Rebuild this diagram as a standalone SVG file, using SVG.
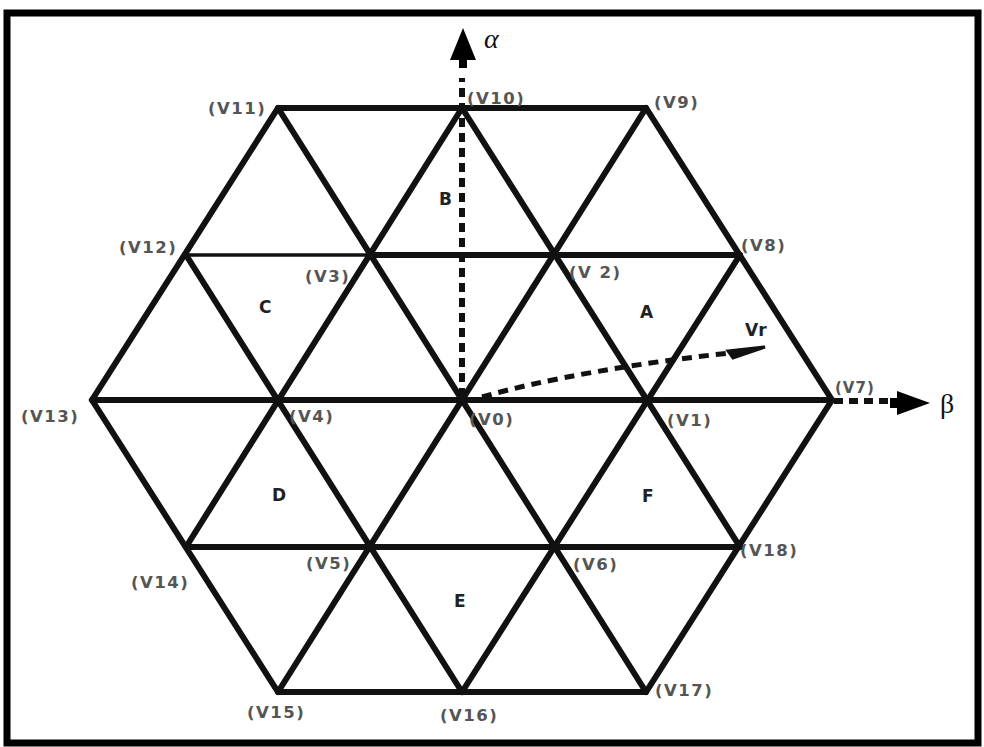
<svg xmlns="http://www.w3.org/2000/svg" width="984" height="747" viewBox="0 0 984 747">
<style>
.g{stroke:#111;stroke-width:6;stroke-linecap:round;fill:none}
.t{stroke:#111;stroke-width:3.5;fill:none}
.lbl{font-family:"DejaVu Sans",sans-serif;font-weight:bold;font-size:16.5px;fill:#555;letter-spacing:1.5px}
.sec{font-family:"DejaVu Sans",sans-serif;font-weight:bold;font-size:17px;fill:#222}
.dash{stroke:#111;stroke-width:6;stroke-dasharray:9,6;fill:none}
</style>
<rect x="7" y="13" width="971" height="730" fill="#fff" stroke="#000" stroke-width="7"/>
<g id="connectors">
<path class="g" d="M278,108 H646 L832,400 L646,692 H278 L92,400 Z"/>
<path class="t" d="M186,255 H370"/>
<path class="g" d="M370,255 H740"/>
<path class="g" d="M92,400 H832"/>
<path class="g" d="M186,547 H740"/>
<path class="g" d="M186,547 L462,108"/>
<path class="g" d="M278,692 L646,108"/>
<path class="g" d="M462,692 L740,255"/>
<path class="g" d="M278,108 L646,692"/>
<path class="g" d="M462,108 L740,547"/>
<path class="g" d="M186,255 L462,692"/>
</g>
<g id="alpha-axis">
<path class="dash" d="M462,397 V78"/>
<path d="M459,68 V60 H450 L463,28 L476,60 H467 V68 Z" fill="#000"/>
<text x="484" y="48" font-family="Liberation Serif,serif" font-style="italic" font-size="28" fill="#111">α</text>
</g>
<g id="beta-axis">
<path class="dash" d="M834,401 H892"/>
<path d="M890,398 H897 V391 L930,403 L897,415 V408 H890 Z" fill="#000"/>
<text x="940" y="413" font-family="Liberation Serif,serif" font-size="28" fill="#111">β</text>
</g>
<g id="vr">
<path d="M482,397 C540,380 640,362 740,352" stroke="#111" stroke-width="5" stroke-dasharray="10,7" fill="none"/>
<path d="M728,351 L765,347 L733,358 Z" fill="#111" stroke="#111" stroke-width="3"/>
<text class="sec" x="745" y="336">Vr</text>
</g>
<g id="V11"><text class="lbl" x="208" y="114">(V11)</text></g>
<g id="V10"><text class="lbl" x="467" y="104">(V10)</text></g>
<g id="V9"><text class="lbl" x="654" y="108">(V9)</text></g>
<g id="V12"><text class="lbl" x="119" y="253">(V12)</text></g>
<g id="V3"><text class="lbl" x="305" y="282">(V3)</text></g>
<g id="V2"><text class="lbl" x="569" y="278">(V 2)</text></g>
<g id="V8"><text class="lbl" x="741" y="251">(V8)</text></g>
<g id="V13"><text class="lbl" x="21" y="422">(V13)</text></g>
<g id="V4"><text class="lbl" x="289" y="422">(V4)</text></g>
<g id="V0"><text class="lbl" x="469" y="425">(V0)</text></g>
<g id="V1"><text class="lbl" x="667" y="426">(V1)</text></g>
<g id="V7"><text class="lbl" x="835" y="393" style="font-size:15px;letter-spacing:1px">(V7)</text></g>
<g id="V14"><text class="lbl" x="131" y="588">(V14)</text></g>
<g id="V5"><text class="lbl" x="306" y="569">(V5)</text></g>
<g id="V6"><text class="lbl" x="573" y="570">(V6)</text></g>
<g id="V18"><text class="lbl" x="740" y="556">(V18)</text></g>
<g id="V15"><text class="lbl" x="247" y="718">(V15)</text></g>
<g id="V16"><text class="lbl" x="440" y="721">(V16)</text></g>
<g id="V17"><text class="lbl" x="655" y="696">(V17)</text></g>
<g id="sector-A"><text class="sec" x="640" y="318">A</text></g>
<g id="sector-B"><text class="sec" x="439" y="205">B</text></g>
<g id="sector-C"><text class="sec" x="259" y="313">C</text></g>
<g id="sector-D"><text class="sec" x="272" y="501">D</text></g>
<g id="sector-E"><text class="sec" x="454" y="607">E</text></g>
<g id="sector-F"><text class="sec" x="642" y="502">F</text></g>
</svg>
